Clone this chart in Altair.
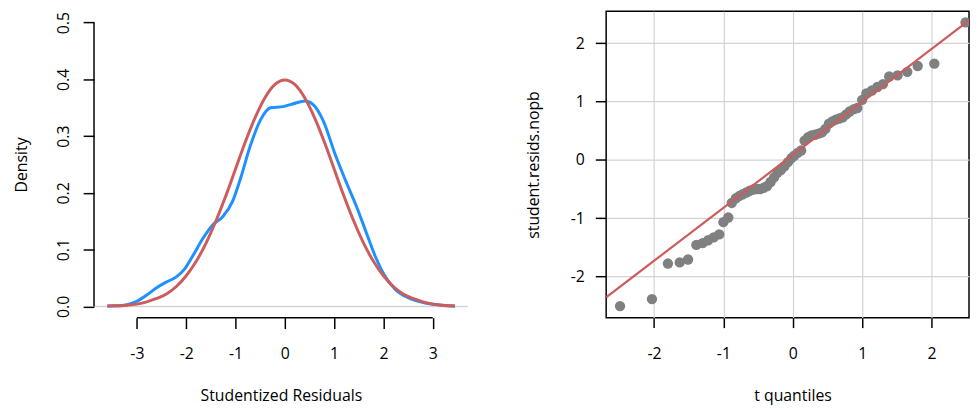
import altair as alt
import pandas as pd

FONT = "Open Sans"

# ---------------- left panel: density of studentized residuals ----------------
dens_x = [-3.60, -3.40, -3.20, -3.00, -2.80, -2.60, -2.40, -2.20, -2.03, -1.86,
          -1.66, -1.46, -1.26, -1.06, -0.90, -0.70, -0.49, -0.29, -0.03, 0.17,
          0.41, 0.57, 0.78, 1.02, 1.24, 1.44, 1.64, 1.84, 2.04, 2.24,
          2.51, 2.85, 3.18, 3.45]
dens_y = [0.000, 0.001, 0.003, 0.009, 0.020, 0.033, 0.043, 0.052, 0.066, 0.090,
          0.120, 0.144, 0.158, 0.185, 0.225, 0.283, 0.329, 0.350, 0.352, 0.357,
          0.362, 0.356, 0.327, 0.268, 0.220, 0.179, 0.133, 0.087, 0.052, 0.030,
          0.015, 0.006, 0.002, 0.000]

norm_x = [-3.6, -3.4, -3.2, -3.0, -2.8, -2.6, -2.4, -2.2, -2.0, -1.8, -1.6, -1.4,
          -1.2, -1.0, -0.8, -0.6, -0.4, -0.2, 0.0, 0.2, 0.4, 0.6, 0.8, 1.0,
          1.2, 1.4, 1.6, 1.8, 2.0, 2.2, 2.4, 2.6, 2.8, 3.0, 3.2, 3.45]
norm_y = [0.001, 0.001, 0.002, 0.004, 0.008, 0.014, 0.022, 0.035, 0.054, 0.079,
          0.111, 0.150, 0.194, 0.242, 0.290, 0.333, 0.368, 0.391, 0.399, 0.391,
          0.368, 0.333, 0.290, 0.242, 0.194, 0.150, 0.111, 0.079, 0.054, 0.035,
          0.022, 0.014, 0.008, 0.004, 0.002, 0.001]

left_xticks = [-3, -2, -1, 0, 1, 2, 3]
left_yticks = [0.0, 0.1, 0.2, 0.3, 0.4, 0.5]
left_xdom = [-3.87, 3.71]
left_ydom = [-0.02, 0.52]

# ---------------- right panel: QQ plot ----------------
qq_x = [-2.49, -2.03, -1.80, -1.63, -1.51, -1.39, -1.30, -1.22, -1.14, -1.06,
        -1.00, -0.93, -0.88, -0.82, -0.77, -0.72, -0.67, -0.62, -0.57, -0.52,
        -0.47, -0.42, -0.37, -0.32, -0.27, -0.22, -0.17, -0.12, -0.07, -0.02,
        0.02, 0.07, 0.12, 0.17, 0.22, 0.27, 0.32, 0.37, 0.42, 0.47,
        0.52, 0.57, 0.62, 0.67, 0.72, 0.77, 0.82, 0.88, 0.93, 1.00,
        1.06, 1.14, 1.22, 1.30, 1.39, 1.51, 1.65, 1.80, 2.04, 2.49]
qq_y = [-2.51, -2.39, -1.78, -1.76, -1.71, -1.46, -1.43, -1.38, -1.33, -1.28,
        -1.07, -0.99, -0.74, -0.66, -0.62, -0.59, -0.56, -0.53, -0.51, -0.50,
        -0.50, -0.48, -0.45, -0.38, -0.30, -0.22, -0.17, -0.11, -0.04, 0.03,
        0.07, 0.12, 0.16, 0.33, 0.39, 0.42, 0.43, 0.45, 0.47, 0.53,
        0.62, 0.66, 0.69, 0.71, 0.73, 0.78, 0.83, 0.87, 0.89, 1.03,
        1.14, 1.19, 1.25, 1.30, 1.43, 1.45, 1.51, 1.61, 1.65, 2.36]
qq_slope = 0.909
qq_intercept = 0.085
right_ticks = [-2, -1, 0, 1, 2]
right_xdom = [-2.69, 2.54]
right_ydom = [-2.71, 2.55]

BLUE = "#1E90FF"
RED = "#CD5C5C"
GRAY_PT = "#808080"
LIGHT = "#D3D3D3"

PLOT_H = 310
HYPHEN = "toString(datum.value)"

# ---------------- build left ----------------
xl = alt.Scale(domain=left_xdom, nice=False, zero=False)
yl = alt.Scale(domain=left_ydom, nice=False, zero=False)

ax_lx = alt.Axis(values=left_xticks, grid=False, domain=False, tickSize=11,
                 labelPadding=17, labelExpr=HYPHEN,
                 title="Studentized Residuals", titlePadding=27)
ax_ly = alt.Axis(values=left_yticks, format=".1f", grid=False, domain=False,
                 tickSize=11, labelAngle=270, labelAlign="center",
                 labelBaseline="alphabetic", labelPadding=15,
                 title="Density", titlePadding=26)

curves = pd.concat([
    pd.DataFrame({"x": dens_x, "y": dens_y, "s": "a_density"}),
    pd.DataFrame({"x": norm_x, "y": norm_y, "s": "b_normal"}),
])

zero_line = alt.Chart(pd.DataFrame({"y": [0.0]})).mark_rule(
    color=LIGHT, strokeWidth=1.5).encode(
    y=alt.Y("y:Q", scale=yl, axis=ax_ly))

blue = alt.Chart(curves[curves.s == "a_density"]).mark_line(
    color=BLUE, strokeWidth=3, interpolate="monotone").encode(
    x=alt.X("x:Q", scale=xl, axis=ax_lx),
    y=alt.Y("y:Q", scale=yl, axis=ax_ly))

red = alt.Chart(curves[curves.s == "b_normal"]).mark_line(
    color=RED, strokeWidth=3, interpolate="monotone").encode(
    x=alt.X("x:Q", scale=xl, axis=ax_lx),
    y=alt.Y("y:Q", scale=yl, axis=ax_ly))

xaxis_line = alt.Chart(pd.DataFrame({
    "x": [min(left_xticks)], "x2": [max(left_xticks)], "y": [left_ydom[0]]})).mark_rule(
    color="black", strokeWidth=1.5).encode(
    x=alt.X("x:Q", scale=xl, axis=ax_lx), x2="x2:Q",
    y=alt.Y("y:Q", scale=yl, axis=ax_ly))

yaxis_line = alt.Chart(pd.DataFrame({
    "y": [min(left_yticks)], "y2": [max(left_yticks)], "x": [left_xdom[0]]})).mark_rule(
    color="black", strokeWidth=1.5).encode(
    y=alt.Y("y:Q", scale=yl, axis=ax_ly), y2="y2:Q",
    x=alt.X("x:Q", scale=xl, axis=ax_lx))

left = alt.layer(zero_line, blue, red, xaxis_line, yaxis_line).properties(
    width=378, height=PLOT_H, view=alt.ViewBackground(stroke=None))

# ---------------- build right ----------------
xr = alt.Scale(domain=right_xdom, nice=False, zero=False)
yr = alt.Scale(domain=right_ydom, nice=False, zero=False)

RIGHT_W = 367
ax_rx = alt.Axis(values=right_ticks, grid=True, gridColor=LIGHT, gridWidth=1.2,
                 domain=False, tickSize=10, labelPadding=18, labelExpr=HYPHEN,
                 title="t quantiles", titlePadding=27, titleX=188.5)
ax_ry = alt.Axis(values=right_ticks, grid=True, gridColor=LIGHT, gridWidth=1.2,
                 domain=False, tickSize=11, labelPadding=11, labelExpr=HYPHEN,
                 title="student.resids.nopb", titlePadding=29)

pts = alt.Chart(pd.DataFrame({"x": qq_x, "y": qq_y})).mark_circle(
    size=110, color=GRAY_PT, opacity=1, clip=True).encode(
    x=alt.X("x:Q", scale=xr, axis=ax_rx),
    y=alt.Y("y:Q", scale=yr, axis=ax_ry))

qq_line_df = pd.DataFrame({
    "x": right_xdom,
    "y": [qq_intercept + qq_slope * v for v in right_xdom]})
qq_line = alt.Chart(qq_line_df).mark_line(
    color=RED, strokeWidth=2.2, clip=True).encode(
    x=alt.X("x:Q", scale=xr, axis=ax_rx),
    y=alt.Y("y:Q", scale=yr, axis=ax_ry))

right = alt.layer(pts, qq_line).properties(
    width=RIGHT_W, height=PLOT_H,
    view=alt.ViewBackground(stroke="black", strokeWidth=1.5))

chart = alt.hconcat(left, right, spacing=56).properties(
    padding={"left": 5, "top": 0, "right": 0, "bottom": 0},
    background="white",
).configure_axis(
    labelFont=FONT, labelFontSize=16, labelColor="black",
    titleFont=FONT, titleFontSize=16, titleFontWeight="normal", titleColor="black",
    tickColor="black", tickWidth=1.5, labelFlush=False, labelOverlap=False,
)

chart.save("out.html", embed_options={"renderer": "svg", "actions": False})
